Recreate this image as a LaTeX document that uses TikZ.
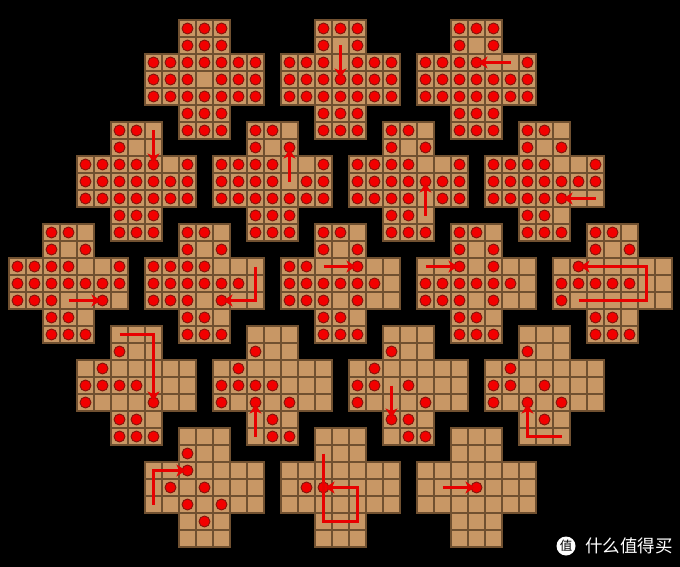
\documentclass[tikz,border=0pt]{standalone}
\usepackage{fontspec}
\newfontfamily\cjk{Noto Sans CJK SC}
\usetikzlibrary{arrows.meta}
\definecolor{tanc}{RGB}{200,151,101}
\definecolor{gridc}{RGB}{112,80,48}
\definecolor{pegc}{RGB}{242,0,0}
\definecolor{pegd}{RGB}{130,22,12}
\definecolor{arrc}{RGB}{232,0,0}
\tikzset{
  cell/.style={fill=tanc,draw=gridc,line width=1.1pt},
  peg/.style={fill=pegc,draw=pegd,line width=0.9pt},
  move/.style={draw=arrc,line width=3.5pt,line join=miter,line cap=butt,-{Stealth[length=9pt,width=12pt,inset=2.5pt]},shorten >=2pt},
}
\newcommand\cellsall{%
  \foreach \r in {0,1,5,6}{\foreach \c in {2,3,4}{\path[cell] (\c,\r) rectangle ++(1,1);}}%
  \foreach \r in {2,3,4}{\foreach \c in {0,...,6}{\path[cell] (\c,\r) rectangle ++(1,1);}}%
}
\newcommand\pegsall{%
  \foreach \r in {0,1,5,6}{\foreach \c in {2,3,4}{\path[peg] (\c+0.5,\r+0.5) circle[radius=5.5pt];}}%
  \foreach \r in {2,3,4}{\foreach \c in {0,...,6}{\path[peg] (\c+0.5,\r+0.5) circle[radius=5.5pt];}}%
}
% board with all pegs except the listed empty holes
\newcommand\boardE[4]{%
  \begin{scope}[xshift=#1pt,yshift=-#2pt,x=17pt,y=-17pt]
    \cellsall
    \pegsall
    \foreach \c/\r in {#3}{\path[cell] (\c,\r) rectangle ++(1,1);}
    #4
  \end{scope}}
% board with only the listed pegs
\newcommand\boardF[4]{%
  \begin{scope}[xshift=#1pt,yshift=-#2pt,x=17pt,y=-17pt]
    \cellsall
    \foreach \c/\r in {#3}{\path[peg] (\c+0.5,\r+0.5) circle[radius=5.5pt];}
    #4
  \end{scope}}
\begin{document}
\begin{tikzpicture}[x=1pt,y=-1pt]
\useasboundingbox (0,0) rectangle (680,567);
\fill[black] (0,0) rectangle (680,567);
% row 1
\boardE{145}{20}{3/3}{}
\boardE{281}{20}{3/1,3/2}{\draw[move] (3.5,1.5) -- (3.5,3.5);}
\boardE{417}{20}{3/1,4/2,5/2}{\draw[move] (5.5,2.5) -- (3.5,2.5);}
% row 2
\boardE{77}{122}{4/0,3/1,4/1,5/2}{\draw[move] (4.5,0.5) -- (4.5,2.5);}
\boardE{213}{122}{4/0,3/1,4/2,5/2,4/3}{\draw[move] (4.5,3.5) -- (4.5,1.5);}
\boardE{349}{122}{4/0,3/1,4/2,5/2,4/4,4/5}{\draw[move] (4.5,5.5) -- (4.5,3.5);}
\boardE{485}{122}{4/0,3/1,4/2,5/2,5/4,6/4,4/5}{\draw[move] (6.5,4.5) -- (4.5,4.5);}
% row 3
\boardE{9}{224}{4/0,3/1,4/2,5/2,3/4,4/4,6/4,4/5}{\draw[move] (3.5,4.5) -- (5.5,4.5);}
\boardE{145}{224}{4/0,3/1,4/2,5/2,6/2,6/3,3/4,5/4,6/4,4/5}{\draw[move] (6.5,2.5) -- (6.5,4.5) -- (4.5,4.5);}
\boardE{281}{224}{4/0,3/1,2/2,3/2,5/2,6/2,6/3,3/4,5/4,6/4,4/5}{\draw[move] (2.5,2.5) -- (4.5,2.5);}
\boardE{417}{224}{4/0,3/1,0/2,1/2,3/2,5/2,6/2,6/3,3/4,5/4,6/4,4/5}{\draw[move] (0.5,2.5) -- (2.5,2.5);}
\boardE{553}{224}{4/0,3/1,0/2,2/2,3/2,4/2,5/2,6/2,5/3,6/3,1/4,2/4,3/4,4/4,5/4,6/4,4/5}{\draw[move] (1.5,4.5) -- (5.5,4.5) -- (5.5,2.5) -- (1.5,2.5);}
% row 4
\boardF{77}{326}{2/1,1/2,0/3,1/3,2/3,3/3,0/4,4/4,2/5,3/5,2/6,3/6,4/6}{\draw[move] (2.5,0.5) -- (4.5,0.5) -- (4.5,4.5);}
\boardF{213}{326}{2/1,1/2,0/3,1/3,2/3,3/3,0/4,2/4,4/4,3/5,3/6,4/6}{\draw[move] (2.5,6.5) -- (2.5,4.5);}
\boardF{349}{326}{2/1,1/2,0/3,1/3,3/3,0/4,4/4,2/5,3/5,3/6,4/6}{\draw[move] (2.5,3.5) -- (2.5,5.5);}
\boardF{485}{326}{2/1,1/2,0/3,1/3,3/3,0/4,2/4,4/4,3/5}{\draw[move] (4.5,6.5) -- (2.5,6.5) -- (2.5,4.5);}
% row 5
\boardF{145}{428}{2/1,2/2,1/3,3/3,2/4,4/4,3/5}{\draw[move] (0.5,4.5) -- (0.5,2.5) -- (2.5,2.5);}
\boardF{281}{428}{1/3,2/3}{\draw[move] (2.5,1.5) -- (2.5,5.5) -- (4.5,5.5) -- (4.5,3.5) -- (2.5,3.5);}
\boardF{417}{428}{3/3}{\draw[move] (1.5,3.5) -- (3.5,3.5);}
% watermark
\node[circle,fill=white,inner sep=0pt,minimum size=19pt,text=black,font=\cjk\fontsize{12.5}{12.5}\selectfont] (wmlogo) at (566,546) {值};
\node[anchor=west,text=white,inner sep=0pt,font=\cjk\fontsize{17.5}{18}\selectfont] (wmtext) at (585,546) {什么值得买};
\end{tikzpicture}
\end{document}
